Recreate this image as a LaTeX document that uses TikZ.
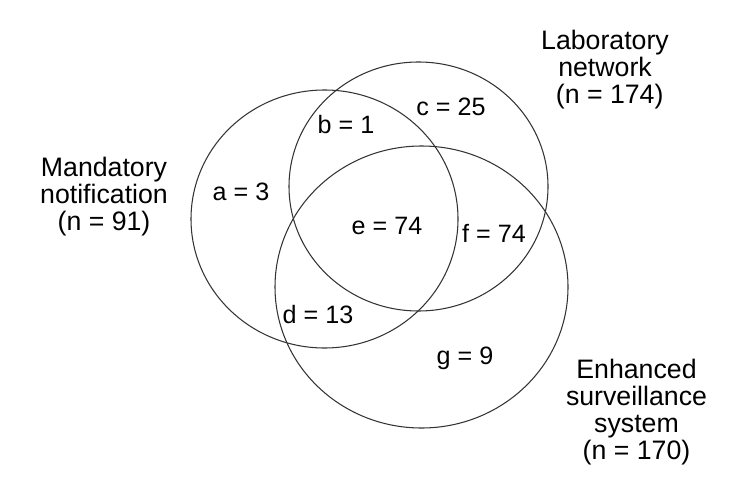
\documentclass[tikz,border=0pt]{standalone}
\usepackage{fontspec}
\setmainfont{Liberation Sans}

\tikzset{
  setcircle/.style = {line width=0.6pt, draw=black!80},
  countlabel/.style = {font=\fontsize{14.3}{16}\selectfont, inner sep=0pt},
  setname/.style = {font=\fontsize{15.2}{15.4}\selectfont, align=center, inner sep=0pt}
}

\begin{document}
\begin{tikzpicture}[x=0.02cm, y=-0.02cm]

\useasboundingbox (0,0) rectangle (750,500);

%% the three sets
\draw[setcircle] (324.5,219) ellipse [x radius=133.5, y radius=129];   % mandatory
\draw[setcircle] (418.5,186.5) ellipse [x radius=129.5, y radius=124.5]; % laboratory
\draw[setcircle] (421.5,287) ellipse [x radius=146.5, y radius=141];   % enhanced

%% region counts
\node[countlabel] (a) at (241,192) {a = 3};
\node[countlabel] (b) at (346,125) {b = 1};
\node[countlabel] (c) at (451,107) {c = 25};
\node[countlabel] (e) at (387,226) {e = 74};
\node[countlabel] (f) at (494,233) {f = 74};
\node[countlabel] (d) at (318,315) {d = 13};
\node[countlabel] (g) at (465,358) {g = 9};

%% set names
\node[setname] (mandatory) at (104,197) {Mandatory\\notification\\(n = 91)};
\node[setname] (laboratory) at (605,70) {Laboratory\\network\\\hspace*{0.35em}(n = 174)};
\node[setname] (enhanced) at (636.5,412) {Enhanced\\surveillance\\system\\(n = 170)};

\end{tikzpicture}
\end{document}
